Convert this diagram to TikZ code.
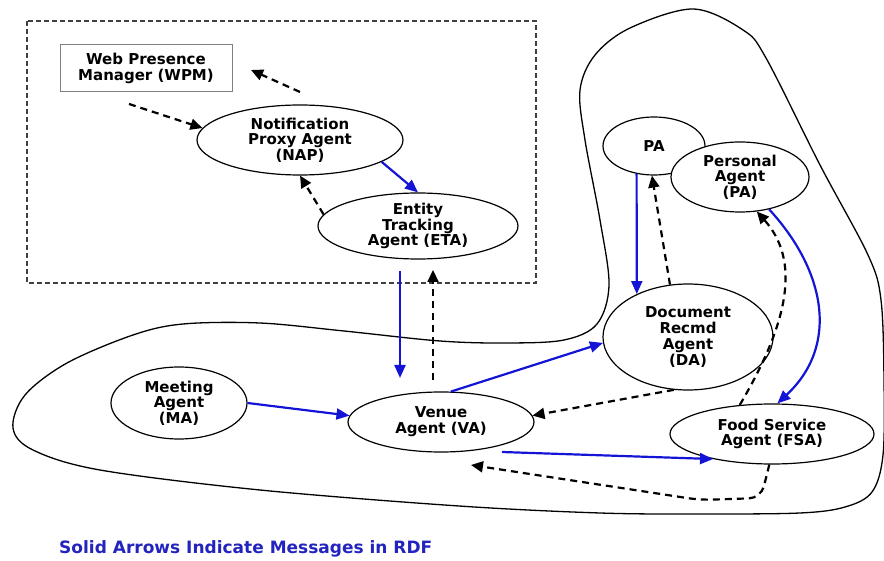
\documentclass[tikz,border=0pt]{standalone}
\usepackage{fontspec}
\setmainfont{DejaVu Sans}
\usetikzlibrary{arrows.meta,shapes.geometric,calc}
\definecolor{arrblue}{RGB}{20,20,215}
\definecolor{legblue}{RGB}{35,35,190}
\begin{document}
\begin{tikzpicture}[x=1pt,y=-1pt,
  agent/.style={ellipse, draw, line width=1.2pt, fill=white, inner sep=0pt, align=center,
    font=\bfseries\fontsize{15}{15.7}\selectfont},
  wpmbox/.style={draw=gray, line width=1pt, fill=white, inner sep=0pt, align=center,
    font=\bfseries\fontsize{15}{15.7}\selectfont},
  solidarr/.style={draw=arrblue, line width=2.2pt, -{Triangle[length=13pt,width=11pt]}},
  dasharr/.style={draw=black, line width=2.2pt, dash pattern=on 7pt off 5pt, -{Triangle[length=12pt,width=11pt]}},
  blob/.style={draw=black, line width=1.3pt},
  groupbox/.style={draw=black!75, line width=1.2pt, dash pattern=on 5pt off 3pt},
]
\useasboundingbox (0,0) rectangle (884,561);

% outer region
\draw[blob] plot[smooth cycle, tension=0.55] coordinates {(693,9) (743,30) (766,58) (820,165) (868,255) (881,300) (884,380) (883,455) (872,492) (845,507) (800,513) (700,514) (600,513) (459,506) (260,490) (100,470) (33,450) (13,428) (25,395) (67,363) (133,335) (183,324) (260,323) (344,331) (440,341) (507,343) (564,340) (597,324) (609,285) (600,220) (585,140) (580,90) (595,55) (630,28)};

% group box
\draw[groupbox] (27,21) rectangle (536,283);

% nodes
\node[wpmbox, minimum width=172pt, minimum height=47pt] (WPM) at (146,68.5) {Web Presence\\Manager (WPM)};
\node[agent, minimum width=206pt, minimum height=70pt] (NAP) at (300,140) {Notification\\Proxy Agent\\(NAP)};
\node[agent, minimum width=200pt, minimum height=66pt] (ETA) at (418,226) {Entity\\Tracking\\Agent (ETA)};
\node[agent, minimum width=102pt, minimum height=58pt] (PA) at (654,146) {PA};
\node[agent, minimum width=138pt, minimum height=70pt] (PersA) at (740,177) {Personal\\Agent\\(PA)};
\node[agent, minimum width=170pt, minimum height=106pt] (DA) at (688,337) {Document\\Recmd\\Agent\\(DA)};
\node[agent, minimum width=136pt, minimum height=72pt] (MA) at (179,403) {Meeting\\Agent\\(MA)};
\node[agent, minimum width=186pt, minimum height=60pt] (VA) at (441,422) {Venue\\Agent (VA)};
\node[agent, minimum width=204pt, minimum height=60pt] (FSA) at (772,434) {Food Service\\Agent (FSA)};

\node[anchor=west, text=legblue, inner sep=0pt, font=\bfseries\fontsize{17}{17}\selectfont] (legend) at (59,549) {Solid Arrows Indicate Messages in RDF};

% free ends
\coordinate (w1) at (129,104);
\coordinate (n1) at (300,92);
\coordinate (w2) at (251,70);
\coordinate (e1) at (400,271);
\coordinate (v1) at (400,378);
\coordinate (v2) at (433,380);
\coordinate (e2) at (433,270);
\coordinate (v3) at (502,452);
\coordinate (v4) at (471,465);
\coordinate (c1) at (761,498);
\coordinate (c2) at (700,500);

% connectors
\draw[dasharr] (w1) -- (NAP.173);
\draw[dasharr] (n1) -- (w2);
\draw[solidarr] (NAP.-15) -- (ETA.north);
\draw[dasharr] (ETA.173) -- (NAP.south);
\draw[solidarr] (e1) -- (v1);
\draw[dasharr] (v2) -- (e2);
\draw[solidarr] (MA.east) -- (VA.176);
\draw[solidarr] (VA.72) -- (DA.184);
\draw[dasharr] (DA.255) -- (VA.4);
\draw[solidarr] (v3) -- (FSA.203);
\draw[dasharr, rounded corners=12pt] (FSA.265) -- (c1) -- (c2) -- (v4);
\draw[solidarr] (PA.238) -- (DA.140);
\draw[dasharr] (DA.109) -- (PA.266);
\draw[solidarr] (PersA.312) .. controls (825,270) and (840,345) .. (FSA.80);
\draw[dasharr] (FSA.138) .. controls (790,320) and (800,260) .. (PersA.296);
\end{tikzpicture}
\end{document}
